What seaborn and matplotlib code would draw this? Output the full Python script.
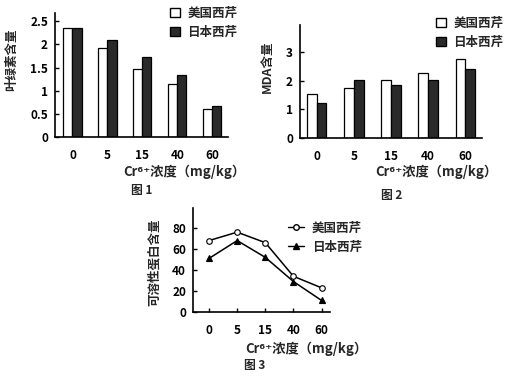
import matplotlib
matplotlib.use("Agg")
import matplotlib.pyplot as plt
from matplotlib.patches import Patch
from matplotlib.lines import Line2D
import pandas as pd
import seaborn as sns

conc = ["0", "5", "15", "40", "60"]
series = ["美国西芹", "日本西芹"]
chl_us = [2.35, 1.93, 1.48, 1.15, 0.61]
chl_jp = [2.35, 2.09, 1.72, 1.33, 0.67]
mda_us = [1.54, 1.75, 2.03, 2.28, 2.77]
mda_jp = [1.23, 2.03, 1.86, 2.03, 2.42]
prot_us = [68, 76, 66, 34, 23]
prot_jp = [51, 68, 52, 29, 11]
chl_ticks = [0, 0.5, 1, 1.5, 2, 2.5]
chl_ticklabels = ["0", "0.5", "1", "1.5", "2", "2.5"]
mda_ticks = [0, 1, 2, 3]
prot_ticks = [0, 20, 40, 60, 80]
xlabel = "Cr⁶⁺浓度（mg/kg）"


def long(us, jp):
    return pd.DataFrame({"conc": conc * 2, "val": us + jp,
                         "variety": [series[0]] * 5 + [series[1]] * 5})


sns.set_theme(style="ticks")
plt.rcParams["font.family"] = ["Noto Sans CJK SC", "DejaVu Sans"]
plt.rcParams["font.weight"] = "bold"
plt.rcParams["axes.linewidth"] = 1.2

W, H = 512, 381
fig = plt.figure(figsize=(W / 100, H / 100), dpi=100)


def px_axes(x0, x1, ytop, ybot):
    return fig.add_axes([x0 / W, 1 - ybot / H, (x1 - x0) / W, (ybot - ytop) / H])


ax1 = px_axes(55, 228, 13, 137)
ax2 = px_axes(300, 482, 25, 138)
ax3 = px_axes(193, 330, 208, 312)

bar_pal = ["white", "#2a2a2a"]
tick_font = dict(fontsize=8.5, fontweight="bold")

for ax, us, jp in [(ax1, chl_us, chl_jp), (ax2, mda_us, mda_jp)]:
    sns.barplot(data=long(us, jp), x="conc", y="val", hue="variety",
                palette=bar_pal, edgecolor="black", linewidth=0.9,
                width=0.52, ax=ax, legend=False, saturation=1)

sns.pointplot(data=long(prot_us, prot_jp), x="conc", y="val", hue="variety",
              palette=["black", "black"], markers=["o", "^"],
              linestyles=["-", "-"], markersize=4, linewidth=1.1,
              errorbar=None, ax=ax3, legend=False)
for ln in ax3.lines[:1]:
    ln.set_markerfacecolor("white")

ax1.set_ylim(0, 2.68)
ax1.set_yticks(chl_ticks)
ax1.set_yticklabels(chl_ticklabels, **tick_font)
ax1.set_xlim(-0.5, 4.45)
ax2.set_ylim(0, 3.95)
ax2.set_yticks(mda_ticks)
ax2.set_yticklabels([str(t) for t in mda_ticks], **tick_font)
ax2.set_xlim(-0.45, 4.45)
ax3.set_ylim(0, 99)
ax3.set_yticks(prot_ticks)
ax3.set_yticklabels([str(t) for t in prot_ticks], **tick_font)
ax3.set_xlim(-0.57, 4.3)

for ax in (ax1, ax2, ax3):
    sns.despine(ax=ax)
    ax.set_xticks(range(len(conc)))
    ax.set_xticklabels(conc, **tick_font)
    ax.tick_params(axis="y", direction="in", length=3, width=1, pad=5, colors="black")
    ax.tick_params(axis="x", direction="in", length=0, pad=9, colors="black")
    ax.spines["left"].set_color("black")
    ax.spines["bottom"].set_color("black")
ax3.tick_params(axis="x", length=3, width=1)

lab_font = dict(fontsize=9, fontweight="bold")
ax1.set_ylabel("叶绿素含量", **lab_font)
ax1.yaxis.set_label_coords(-0.25, 0.62)
ax2.set_ylabel("MDA含量", **lab_font)
ax2.yaxis.set_label_coords(-0.18, 0.63)
ax3.set_ylabel("可溶性蛋白含量", **lab_font)
ax3.yaxis.set_label_coords(-0.28, 0.48)
ax1.set_xlabel(xlabel, fontsize=9.5, fontweight="bold")
ax1.xaxis.set_label_coords(0.75, -0.28)
ax2.set_xlabel(xlabel, fontsize=9.5, fontweight="bold")
ax2.xaxis.set_label_coords(0.75, -0.30)
ax3.set_xlabel(xlabel, fontsize=9.5, fontweight="bold")
ax3.xaxis.set_label_coords(0.83, -0.35)
for ax in (ax1, ax2, ax3):
    ax.xaxis.label.set_va("center")
    ax.yaxis.label.set_va("center")

fig.text(142 / W, 1 - 190 / H, "图 1", fontsize=8.5, fontweight="bold", ha="center", va="center")
fig.text(392 / W, 1 - 195 / H, "图 2", fontsize=8.5, fontweight="bold", ha="center", va="center")
fig.text(255 / W, 1 - 365 / H, "图 3", fontsize=8.5, fontweight="bold", ha="center", va="center")

bar_handles = [Patch(facecolor=c, edgecolor="black", linewidth=1) for c in bar_pal]
leg_kw = dict(frameon=False, prop=dict(size=9, weight="bold"), handlelength=0.8,
              handleheight=0.8, handletextpad=0.6, labelspacing=0.45, borderpad=0,
              borderaxespad=0, loc="upper left", bbox_transform=fig.transFigure)
ax1.legend(bar_handles, series, bbox_to_anchor=(170 / W, 1 - 7 / H), **leg_kw)
ax2.legend(bar_handles, series, bbox_to_anchor=(436 / W, 1 - 17 / H), **leg_kw)
line_handles = [
    Line2D([], [], color="black", marker="o", markerfacecolor="white", markersize=4, linewidth=1),
    Line2D([], [], color="black", marker="^", markersize=4, linewidth=1),
]
kw3 = dict(leg_kw)
kw3["handlelength"] = 1.3
ax3.legend(line_handles, series, bbox_to_anchor=(288 / W, 1 - 222 / H), **kw3)

fig.savefig("out.png", dpi=100, facecolor="white")
